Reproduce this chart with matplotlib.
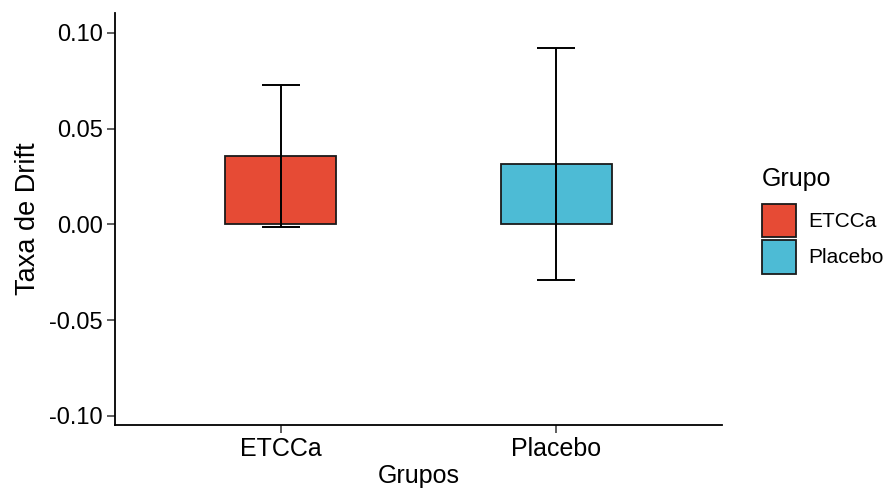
import numpy as np
import matplotlib.pyplot as plt
from matplotlib.patches import Patch

plt.rcParams['font.family'] = ['Liberation Sans', 'DejaVu Sans']

# data
grupos = ['ETCCa', 'Placebo']
media = [0.0357, 0.0316]
erro_inf = [-0.0012, -0.0288]
erro_sup = [0.0730, 0.0923]
cores = ['#E64B35', '#4DBBD5']

fig = plt.figure(figsize=(8.86, 4.91), dpi=100)
ax = fig.add_axes([115/886, 1-425/491, (722-115)/886, (425-13)/491])

x = np.arange(1, len(grupos)+1)
ax.bar(x, media, width=0.4, color=cores, edgecolor='#1a1a1a', linewidth=1.3, zorder=2)
yerr = [np.array(media) - np.array(erro_inf), np.array(erro_sup) - np.array(media)]
ax.errorbar(x, media, yerr=yerr, fmt='none', ecolor='black', elinewidth=1.4,
            capsize=14, capthick=1.4, zorder=3)

ax.set_xlim(0.4, 2.6)
ax.set_ylim(-0.1047, 0.1104)
ax.set_xticks(x)
ax.set_xticklabels(grupos)
ax.set_yticks([-0.10, -0.05, 0.0, 0.05, 0.10])
ax.set_yticklabels(['-0.10', '-0.05', '0.00', '0.05', '0.10'])
ax.tick_params(labelsize=17, length=6, width=1.1, color='#333333', labelcolor='black', pad=3)
ax.tick_params(axis='x', labelsize=18)
for s in ['top', 'right']:
    ax.spines[s].set_visible(False)
for s in ['left', 'bottom']:
    ax.spines[s].set_linewidth(1.3)
ax.set_xlabel('Grupos', fontsize=18, labelpad=2)
ax.set_ylabel('Taxa de Drift', fontsize=19.5, labelpad=6)

handles = [Patch(facecolor=c, edgecolor='#1a1a1a', linewidth=1.3) for c in cores]
leg = fig.legend(handles, grupos, title='Grupo', loc='upper left',
                 bbox_to_anchor=(762/886, 1-167/491), frameon=False, borderpad=0,
                 borderaxespad=0, fontsize=15, title_fontsize=18,
                 handlelength=1.63, handleheight=2.13,
                 handletextpad=0.6, labelspacing=0.12)
leg._legend_box.align = 'left'
leg._legend_box.sep = 9  # gap between title and keys

fig.savefig('out.png', dpi=100)
